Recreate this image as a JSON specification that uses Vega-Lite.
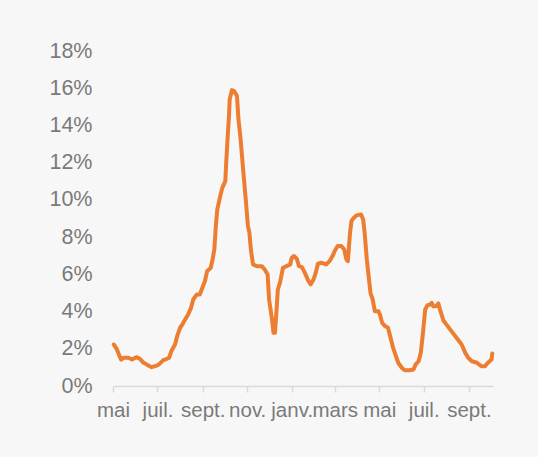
{
  "$schema": "https://vega.github.io/schema/vega-lite/v6.json",
  "autosize": "none",
  "width": 380,
  "height": 335,
  "padding": {"left": 113, "top": 51, "right": 45, "bottom": 71},
  "background": "#f7f7f7",
  "config": {
    "view": {"stroke": null},
    "font": "Liberation Sans"
  },
  "data": {
    "values": [
      {"date": "2020-05-02", "v": 2.23}, {"date": "2020-05-06", "v": 2.0}, {"date": "2020-05-09", "v": 1.7},
      {"date": "2020-05-12", "v": 1.42}, {"date": "2020-05-16", "v": 1.52}, {"date": "2020-05-22", "v": 1.52},
      {"date": "2020-05-27", "v": 1.42}, {"date": "2020-06-02", "v": 1.55}, {"date": "2020-06-07", "v": 1.46},
      {"date": "2020-06-11", "v": 1.28}, {"date": "2020-06-16", "v": 1.16}, {"date": "2020-06-23", "v": 1.01},
      {"date": "2020-06-30", "v": 1.1}, {"date": "2020-07-03", "v": 1.16}, {"date": "2020-07-09", "v": 1.39},
      {"date": "2020-07-14", "v": 1.46}, {"date": "2020-07-17", "v": 1.52}, {"date": "2020-07-20", "v": 1.87},
      {"date": "2020-07-25", "v": 2.23}, {"date": "2020-07-28", "v": 2.68}, {"date": "2020-08-01", "v": 3.13},
      {"date": "2020-08-04", "v": 3.3}, {"date": "2020-08-08", "v": 3.58}, {"date": "2020-08-12", "v": 3.84},
      {"date": "2020-08-16", "v": 4.2}, {"date": "2020-08-19", "v": 4.65}, {"date": "2020-08-24", "v": 4.92},
      {"date": "2020-08-28", "v": 4.92}, {"date": "2020-08-31", "v": 5.22}, {"date": "2020-09-04", "v": 5.63},
      {"date": "2020-09-07", "v": 6.17}, {"date": "2020-09-12", "v": 6.35}, {"date": "2020-09-15", "v": 6.89},
      {"date": "2020-09-17", "v": 7.37}, {"date": "2020-09-19", "v": 8.59}, {"date": "2020-09-21", "v": 9.49},
      {"date": "2020-09-25", "v": 10.2}, {"date": "2020-09-28", "v": 10.66}, {"date": "2020-10-02", "v": 11.01},
      {"date": "2020-10-03", "v": 11.82}, {"date": "2020-10-05", "v": 13.25}, {"date": "2020-10-07", "v": 14.5},
      {"date": "2020-10-08", "v": 15.4}, {"date": "2020-10-11", "v": 15.9}, {"date": "2020-10-14", "v": 15.85},
      {"date": "2020-10-18", "v": 15.58}, {"date": "2020-10-20", "v": 14.33}, {"date": "2020-10-23", "v": 13.25},
      {"date": "2020-10-26", "v": 11.82}, {"date": "2020-10-28", "v": 10.92}, {"date": "2020-10-30", "v": 10.03},
      {"date": "2020-11-02", "v": 8.59}, {"date": "2020-11-04", "v": 8.24}, {"date": "2020-11-06", "v": 7.34},
      {"date": "2020-11-09", "v": 6.53}, {"date": "2020-11-14", "v": 6.44}, {"date": "2020-11-21", "v": 6.44},
      {"date": "2020-11-25", "v": 6.26}, {"date": "2020-11-29", "v": 5.99}, {"date": "2020-12-01", "v": 4.65},
      {"date": "2020-12-05", "v": 3.58}, {"date": "2020-12-07", "v": 2.86}, {"date": "2020-12-09", "v": 2.86},
      {"date": "2020-12-11", "v": 3.94}, {"date": "2020-12-13", "v": 5.19}, {"date": "2020-12-16", "v": 5.55},
      {"date": "2020-12-20", "v": 6.35}, {"date": "2020-12-25", "v": 6.44}, {"date": "2020-12-30", "v": 6.53},
      {"date": "2021-01-01", "v": 6.89}, {"date": "2021-01-04", "v": 6.98}, {"date": "2021-01-08", "v": 6.84},
      {"date": "2021-01-11", "v": 6.44}, {"date": "2021-01-15", "v": 6.39}, {"date": "2021-01-19", "v": 6.09},
      {"date": "2021-01-24", "v": 5.63}, {"date": "2021-01-27", "v": 5.46}, {"date": "2021-01-31", "v": 5.73},
      {"date": "2021-02-03", "v": 6.09}, {"date": "2021-02-06", "v": 6.57}, {"date": "2021-02-11", "v": 6.62},
      {"date": "2021-02-17", "v": 6.53}, {"date": "2021-02-22", "v": 6.71}, {"date": "2021-02-26", "v": 6.98},
      {"date": "2021-03-01", "v": 7.25}, {"date": "2021-03-05", "v": 7.52}, {"date": "2021-03-10", "v": 7.52},
      {"date": "2021-03-14", "v": 7.34}, {"date": "2021-03-17", "v": 6.8}, {"date": "2021-03-19", "v": 6.71},
      {"date": "2021-03-22", "v": 8.24}, {"date": "2021-03-24", "v": 8.86}, {"date": "2021-03-26", "v": 8.99},
      {"date": "2021-03-31", "v": 9.17}, {"date": "2021-04-06", "v": 9.22}, {"date": "2021-04-09", "v": 8.95},
      {"date": "2021-04-11", "v": 8.24}, {"date": "2021-04-14", "v": 6.8}, {"date": "2021-04-16", "v": 6.09},
      {"date": "2021-04-19", "v": 5.01}, {"date": "2021-04-22", "v": 4.65}, {"date": "2021-04-25", "v": 4.02},
      {"date": "2021-04-30", "v": 4.02}, {"date": "2021-05-02", "v": 3.84}, {"date": "2021-05-05", "v": 3.4},
      {"date": "2021-05-09", "v": 3.22}, {"date": "2021-05-13", "v": 3.13}, {"date": "2021-05-16", "v": 2.68},
      {"date": "2021-05-20", "v": 2.05}, {"date": "2021-05-24", "v": 1.6}, {"date": "2021-05-27", "v": 1.25},
      {"date": "2021-06-01", "v": 0.98}, {"date": "2021-06-05", "v": 0.85}, {"date": "2021-06-12", "v": 0.85},
      {"date": "2021-06-17", "v": 0.89}, {"date": "2021-06-20", "v": 1.16}, {"date": "2021-06-24", "v": 1.33},
      {"date": "2021-06-27", "v": 1.78}, {"date": "2021-06-30", "v": 2.86}, {"date": "2021-07-03", "v": 4.11},
      {"date": "2021-07-06", "v": 4.33}, {"date": "2021-07-10", "v": 4.38}, {"date": "2021-07-12", "v": 4.47},
      {"date": "2021-07-14", "v": 4.29}, {"date": "2021-07-18", "v": 4.29}, {"date": "2021-07-21", "v": 4.44},
      {"date": "2021-07-24", "v": 4.02}, {"date": "2021-07-28", "v": 3.52}, {"date": "2021-08-01", "v": 3.31},
      {"date": "2021-08-08", "v": 2.95}, {"date": "2021-08-15", "v": 2.59}, {"date": "2021-08-22", "v": 2.23},
      {"date": "2021-08-27", "v": 1.78}, {"date": "2021-08-31", "v": 1.52}, {"date": "2021-09-05", "v": 1.33},
      {"date": "2021-09-12", "v": 1.25}, {"date": "2021-09-18", "v": 1.06}, {"date": "2021-09-23", "v": 1.06},
      {"date": "2021-09-27", "v": 1.25}, {"date": "2021-10-02", "v": 1.42}, {"date": "2021-10-03", "v": 1.75}
    ]
  },
  "transform": [{"calculate": "datum.v / 100", "as": "pct"}],
  "mark": {"type": "line", "color": "#ED7D31", "strokeWidth": 4, "strokeJoin": "round", "strokeCap": "round"},
  "encoding": {
    "x": {
      "field": "date",
      "type": "temporal",
      "scale": {"domain": ["2020-05-01T00:00:00", "2021-10-04T00:00:00"]},
      "axis": {
        "title": null,
        "values": ["2020-05-01T00:00:00", "2020-07-01T00:00:00", "2020-09-01T00:00:00", "2020-11-01T00:00:00", "2021-01-01T00:00:00", "2021-03-01T00:00:00", "2021-05-01T00:00:00", "2021-07-01T00:00:00", "2021-09-01T00:00:00"],
        "labelExpr": "['janv.','févr.','mars','avr.','mai','juin','juil.','août','sept.','oct.','nov.','déc.'][month(datum.value)]",
        "labelOverlap": false,
        "labelFlush": false,
        "labelFont": "Liberation Sans",
        "labelFontSize": 20.5,
        "labelColor": "#7a7a7a",
        "labelPadding": 8,
        "domainColor": "#d9d9d9",
        "domainWidth": 1.5,
        "tickColor": "#d9d9d9",
        "tickWidth": 1.5,
        "tickSize": 6,
        "grid": false
      }
    },
    "y": {
      "field": "pct",
      "type": "quantitative",
      "scale": {"domain": [0, 0.18], "nice": false},
      "axis": {
        "title": null,
        "values": [0, 0.02, 0.04, 0.06, 0.08, 0.1, 0.12, 0.14, 0.16, 0.18],
        "format": ".0%",
        "labelFont": "Liberation Sans",
        "labelFontSize": 21.5,
        "labelColor": "#7a7a7a",
        "labelPadding": 21,
        "domain": false,
        "ticks": false,
        "grid": false
      }
    }
  }
}
